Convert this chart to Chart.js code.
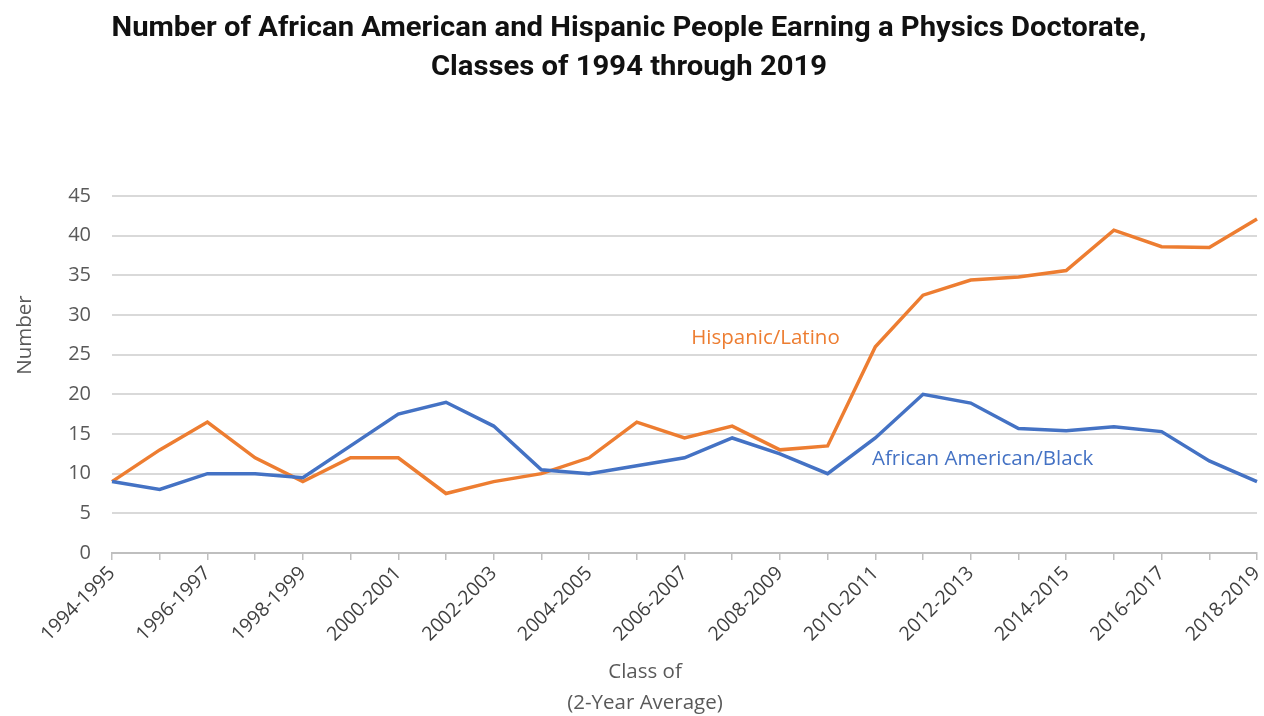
<!DOCTYPE html>
<html>
<head>
<meta charset="utf-8">
<script src="https://cdn.jsdelivr.net/npm/chart.js@4/dist/chart.umd.min.js"></script>
<style>
  body { margin: 0; background: #fff; }
  #wrap { width: 1264px; height: 716px; position: relative; }
</style>
</head>
<body>
<div id="wrap"><canvas id="phd-chart"></canvas></div>
<script>
// class years (2-year averages), one point per year
const classes = [
  '1994-1995', '1995-1996', '1996-1997', '1997-1998', '1998-1999',
  '1999-2000', '2000-2001', '2001-2002', '2002-2003', '2003-2004',
  '2004-2005', '2005-2006', '2006-2007', '2007-2008', '2008-2009',
  '2009-2010', '2010-2011', '2011-2012', '2012-2013', '2013-2014',
  '2014-2015', '2015-2016', '2016-2017', '2017-2018', '2018-2019'
];
const hispanic = [9, 13, 16.5, 12, 9, 12, 12, 7.5, 9, 10, 12, 16.5, 14.5, 16, 13, 13.5,
  26, 32.5, 34.4, 34.8, 35.6, 40.7, 38.6, 38.5, 42.1];
const black = [9, 8, 10, 10, 9.5, 13.5, 17.5, 19, 16, 10.5, 10, 11, 12, 14.5, 12.5, 10,
  14.5, 20, 18.9, 15.7, 15.4, 15.9, 15.3, 11.6, 9];
const yTicks = [0, 5, 10, 15, 20, 25, 30, 35, 40, 45];

const titleLines = ['Number of African American and Hispanic People Earning a Physics Doctorate,',
                    'Classes of 1994 through 2019'];
const xTitle = ['Class of', '(2-Year Average)'];
const yTitle = 'Number';

const orange = '#ED7D31';
const blue = '#4472C4';
const FONT = "'Open Sans'";

// series names written next to the lines (x index, y value)
const seriesLabels = [
  { text: 'Hispanic/Latino', color: orange, at: [12.14, 27.1] },
  { text: 'African American/Black', color: blue, at: [15.93, 11.8] }
];

const textBits = {
  id: 'textBits',
  afterDatasetsDraw(chart) {
    const ctx = chart.ctx;
    const xs = chart.scales.x, ys = chart.scales.y;
    ctx.save();
    ctx.textBaseline = 'middle';

    // labels beside the lines
    ctx.font = '20.5px ' + FONT;
    ctx.textAlign = 'left';
    seriesLabels.forEach(l => {
      ctx.fillStyle = l.color;
      ctx.fillText(l.text, xs.getPixelForValue(l.at[0]), ys.getPixelForValue(l.at[1]));
    });

    // title, bold and narrow
    ctx.font = 'bold 28px Roboto';
    ctx.fillStyle = '#111';
    ctx.textAlign = 'center';
    const sx = 1035 / ctx.measureText(titleLines[0]).width;
    titleLines.forEach((t, i) => {
      ctx.save();
      ctx.translate(629, 29 + i * 39);
      ctx.scale(sx, 1);
      ctx.fillText(t, 0, 0);
      ctx.restore();
    });

    // axis titles
    ctx.font = '20.5px ' + FONT;
    ctx.fillStyle = '#595959';
    xTitle.forEach((t, i) => ctx.fillText(t, 645, 672 + i * 31));
    ctx.save();
    ctx.translate(25, 335);
    ctx.rotate(-Math.PI / 2);
    ctx.fillText(yTitle, 0, 0);
    ctx.restore();

    ctx.restore();
  }
};

new Chart(document.getElementById('phd-chart'), {
  type: 'line',
  data: {
    labels: classes,
    datasets: [
      { label: 'African American/Black', data: black, borderColor: blue, backgroundColor: blue,
        borderWidth: 3.5, pointRadius: 0, tension: 0 },
      { label: 'Hispanic/Latino', data: hispanic, borderColor: orange, backgroundColor: orange,
        borderWidth: 3.5, pointRadius: 0, tension: 0 }
    ]
  },
  options: {
    responsive: true,
    maintainAspectRatio: false,
    animation: false,
    layout: { padding: { left: 0, right: 7, top: 196, bottom: 0 } },
    plugins: {
      legend: { display: false },
      tooltip: { enabled: false },
      title: { display: false }
    },
    scales: {
      x: {
        offset: false,
        grid: { drawOnChartArea: false, drawTicks: true, tickLength: 7, color: '#bfbfbf', lineWidth: 1.5 },
        border: { display: true, color: '#bfbfbf', width: 2 },
        ticks: {
          autoSkip: false,
          maxRotation: 45, minRotation: 45,
          color: '#404040',
          font: { family: FONT, size: 19.5 },
          padding: 2,
          callback: function (v, i) { return i % 2 === 0 ? this.getLabelForValue(v) : ''; }
        },
        afterFit(scale) {
          scale.height = 163;
          scale.paddingLeft = 0;
          scale.paddingRight = 0;
        }
      },
      y: {
        min: 0, max: 45,
        afterBuildTicks(scale) { scale.ticks = yTicks.map(v => ({ value: v })); },
        grid: { color: '#d9d9d9', lineWidth: 2, drawTicks: false },
        border: { display: false },
        ticks: { color: '#595959', font: { family: FONT, size: 20 }, padding: 21 },
        afterFit(scale) { scale.width = 112; }
      }
    }
  },
  plugins: [textBits]
});
</script>
</body>
</html>
